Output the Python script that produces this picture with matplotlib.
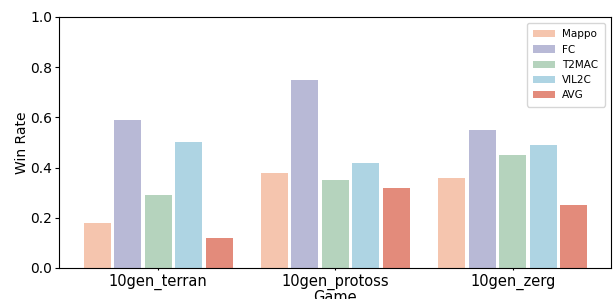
import numpy as np
import matplotlib
matplotlib.use('Agg')
import matplotlib.pyplot as plt

# data
games = ['10gen_terran', '10gen_protoss', '10gen_zerg']
methods = ['Mappo', 'FC', 'T2MAC', 'VIL2C', 'AVG']
mappo = [0.18, 0.38, 0.36]
fc = [0.59, 0.75, 0.55]
t2mac = [0.29, 0.35, 0.45]
vil2c = [0.50, 0.42, 0.49]
avg = [0.12, 0.32, 0.25]
palette = ['#f5c5ae', '#b8b9d6', '#b5d3bd', '#aed4e3', '#e38b7b']

series = [mappo, fc, t2mac, vil2c, avg]

fig = plt.figure(figsize=(6.13, 2.99), dpi=100)
ax = fig.add_axes([0.0962, 0.1037, 0.9005, 0.8396])

x = np.arange(len(games))
step = 0.172
w = 0.153
for i, (vals, name) in enumerate(zip(series, methods)):
    ax.bar(x + (i - 2) * step, vals, width=w, color=palette[i], label=name)

ax.set_ylim(0, 1.0)
ax.set_xlim(-0.56, 2.555)
ax.set_xticks(x)
ax.set_xticklabels(games, fontsize=10.5)
ax.tick_params(axis='y', labelsize=10, length=3, pad=2)
ax.tick_params(axis='x', length=1.5, pad=2.5)
ax.set_ylabel('Win Rate', fontsize=10, labelpad=1)
ax.set_xlabel('Game', fontsize=10.5, labelpad=0)
ax.legend(loc='upper right', fontsize=7.5, handlelength=2.1, handletextpad=0.7,
          borderpad=0.6, labelspacing=0.5, borderaxespad=0.6)

fig.savefig('out.png', dpi=100)
